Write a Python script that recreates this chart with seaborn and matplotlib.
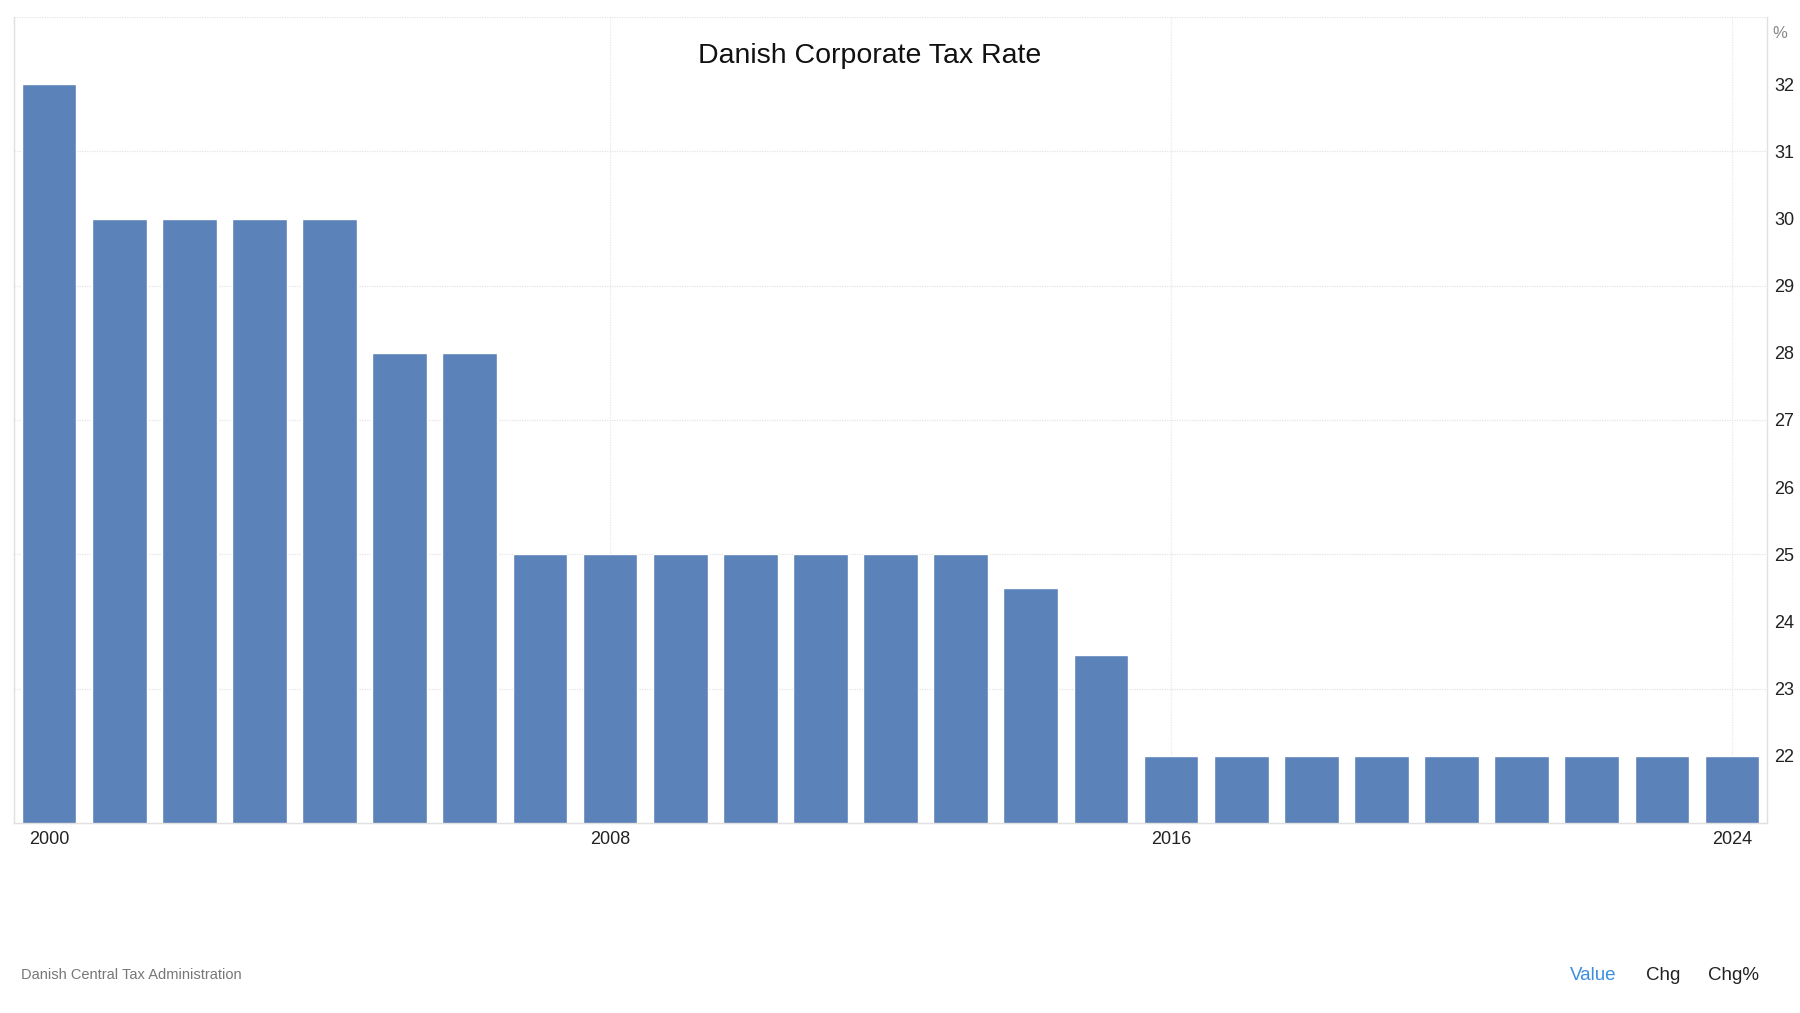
import numpy as np
import pandas as pd
import matplotlib
matplotlib.use("Agg")
import matplotlib.pyplot as plt
import seaborn as sns

years = list(range(2000, 2025))
rates = [32, 30, 30, 30, 30, 28, 28, 25, 25, 25, 25, 25, 25, 25, 24.5, 23.5,
         22, 22, 22, 22, 22, 22, 22, 22, 22]
tick_years = [2000, 2008, 2016, 2024]
y_ticks = list(range(22, 33))
grid_ticks = [23, 25, 27, 29, 31, 33]

df = pd.DataFrame({"year": years, "rate": rates})

sns.set_theme(style="white")
plt.rcParams["font.family"] = ["Liberation Sans", "DejaVu Sans"]

fig = plt.figure(figsize=(18, 10.13), dpi=100)
ax = fig.add_axes([0.0078, 0.1876, 0.9739, 0.7956])

sns.barplot(data=df, x="year", y="rate", color="#5b82b9", saturation=1,
            width=0.78, ax=ax)

ax.set_ylim(21, 33)
ax.set_xlim(-0.5, len(years) - 0.5)
ax.set_xlabel("")
ax.set_ylabel("")

# grid lines
for g in grid_ticks:
    ax.axhline(g, color="#e4e4e4", lw=0.9, ls=(0, (1, 1)), zorder=0)
for yr in tick_years[1:]:
    ax.axvline(years.index(yr), color="#e8e8e8", lw=0.9, ls=(0, (1, 1)), zorder=0)

ax.yaxis.tick_right()
ax.set_yticks(y_ticks)
ax.set_yticklabels([str(v) for v in y_ticks])
ax.tick_params(axis="y", length=0, pad=5, labelsize=13, labelcolor="#222222")

ax.set_xticks([years.index(y) for y in tick_years])
ax.set_xticklabels([str(y) for y in tick_years])
ax.tick_params(axis="x", length=0, pad=6, labelsize=13, labelcolor="#222222")

for side in ["left", "right", "bottom"]:
    ax.spines[side].set_visible(True)
    ax.spines[side].set_color("#e0e0e0")
    ax.spines[side].set_linewidth(1)
ax.spines["top"].set_visible(False)

ax.text(0.488, 0.952, "Danish Corporate Tax Rate", transform=ax.transAxes,
        ha="center", va="center", fontsize=20.5, color="#111111")
ax.text(1.003, 0.98, "%", transform=ax.transAxes, ha="left", va="center",
        fontsize=12, color="#888888")

fig.text(0.0117, 0.038, "Danish Central Tax Administration", fontsize=10.5,
         color="#777777", ha="left", va="center")
fig.text(0.8849, 0.037, "Value", fontsize=13.5, color="#3d8ee0", ha="center", va="center")
fig.text(0.9238, 0.037, "Chg", fontsize=13.5, color="#222222", ha="center", va="center")
fig.text(0.9633, 0.037, "Chg%", fontsize=13.5, color="#222222", ha="center", va="center")

fig.savefig("out.png", dpi=100, facecolor="white")
